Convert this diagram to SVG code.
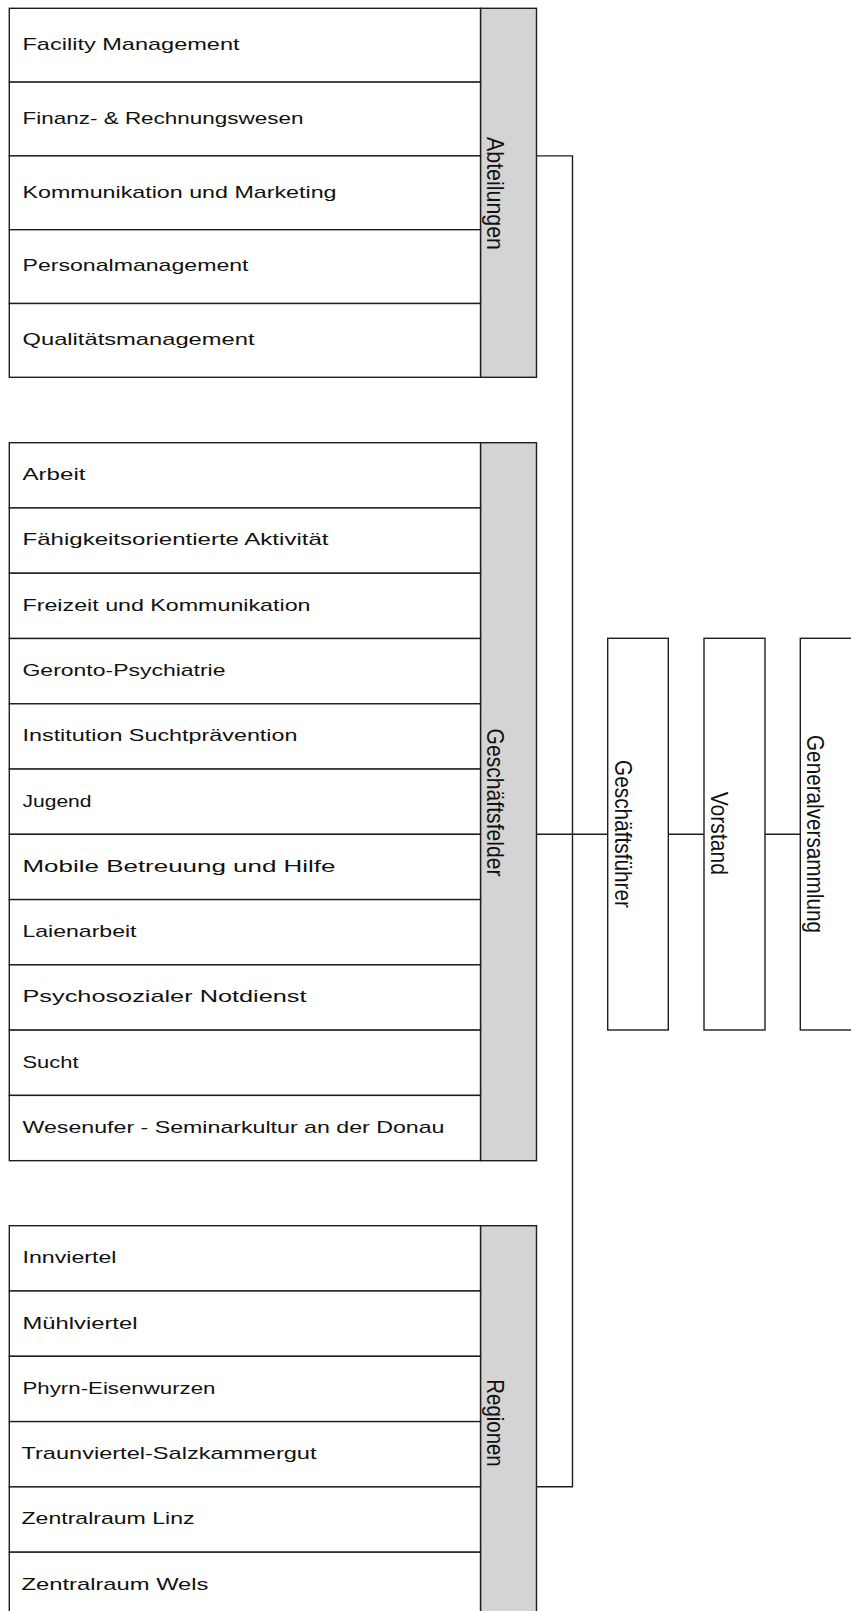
<svg xmlns="http://www.w3.org/2000/svg" width="851" height="1611" viewBox="0 0 851 1611">
<style>
.box{fill:#fff;stroke:#1e1e1e;stroke-width:1.4}
.lab{fill:#d4d4d4;stroke:#1e1e1e;stroke-width:1.4}
.conn{fill:none;stroke:#1e1e1e;stroke-width:1.4}
.t{font-family:"Liberation Sans",Arial,sans-serif;font-size:17px;fill:#111}
.v{font-family:"Liberation Sans",Arial,sans-serif;font-size:21px;fill:#111;text-anchor:middle}
</style>
<rect width="851" height="1611" fill="#fff"/>
<g id="connectors">
<path class="conn" d="M536.5,155.9 H572.5 V1486.8 H536.5"/>
<path class="conn" d="M536.5,834.3 H607.7"/>
<path class="conn" d="M668.3,834.3 H704"/>
<path class="conn" d="M765,834.3 H800.3"/>
</g>
<g id="abteilungen">
<rect class="lab" x="480.5" y="8.3" width="56" height="369"/>
<text class="v" transform="translate(487.3,193.5) rotate(90) scale(1,1.17)" textLength="113" lengthAdjust="spacingAndGlyphs">Abteilungen</text>
<g id="a1"><rect class="box" x="9.3" y="8.3" width="471.2" height="73.8"/><text class="t" x="22.5" y="50" textLength="217" lengthAdjust="spacingAndGlyphs">Facility Management</text></g>
<g id="a2"><rect class="box" x="9.3" y="82.1" width="471.2" height="73.8"/><text class="t" x="22.5" y="123.8" textLength="281" lengthAdjust="spacingAndGlyphs">Finanz- &amp; Rechnungswesen</text></g>
<g id="a3"><rect class="box" x="9.3" y="155.9" width="471.2" height="73.8"/><text class="t" x="22.5" y="197.6" textLength="314" lengthAdjust="spacingAndGlyphs">Kommunikation und Marketing</text></g>
<g id="a4"><rect class="box" x="9.3" y="229.7" width="471.2" height="73.8"/><text class="t" x="22.5" y="271.4" textLength="226" lengthAdjust="spacingAndGlyphs">Personalmanagement</text></g>
<g id="a5"><rect class="box" x="9.3" y="303.5" width="471.2" height="73.8"/><text class="t" x="22.5" y="345.2" textLength="232" lengthAdjust="spacingAndGlyphs">Qualitätsmanagement</text></g>
</g>
<g id="geschaeftsfelder">
<rect class="lab" x="480.5" y="442.7" width="56" height="718"/>
<text class="v" transform="translate(487.3,802.5) rotate(90) scale(1,1.17)" textLength="148" lengthAdjust="spacingAndGlyphs">Geschäftsfelder</text>
<g id="g1"><rect class="box" x="9.3" y="442.7" width="471.2" height="65.27"/><text class="t" x="22.5" y="480.1" textLength="63" lengthAdjust="spacingAndGlyphs">Arbeit</text></g>
<g id="g2"><rect class="box" x="9.3" y="507.97" width="471.2" height="65.27"/><text class="t" x="22.5" y="545.4" textLength="306" lengthAdjust="spacingAndGlyphs">Fähigkeitsorientierte Aktivität</text></g>
<g id="g3"><rect class="box" x="9.3" y="573.24" width="471.2" height="65.27"/><text class="t" x="22.5" y="610.7" textLength="288" lengthAdjust="spacingAndGlyphs">Freizeit und Kommunikation</text></g>
<g id="g4"><rect class="box" x="9.3" y="638.51" width="471.2" height="65.27"/><text class="t" x="22.5" y="676" textLength="203" lengthAdjust="spacingAndGlyphs">Geronto-Psychiatrie</text></g>
<g id="g5"><rect class="box" x="9.3" y="703.78" width="471.2" height="65.27"/><text class="t" x="22.5" y="741.2" textLength="275" lengthAdjust="spacingAndGlyphs">Institution Suchtprävention</text></g>
<g id="g6"><rect class="box" x="9.3" y="769.05" width="471.2" height="65.27"/><text class="t" x="22.5" y="806.5" textLength="69" lengthAdjust="spacingAndGlyphs">Jugend</text></g>
<g id="g7"><rect class="box" x="9.3" y="834.32" width="471.2" height="65.27"/><text class="t" x="22.5" y="871.8" textLength="313" lengthAdjust="spacingAndGlyphs">Mobile Betreuung und Hilfe</text></g>
<g id="g8"><rect class="box" x="9.3" y="899.59" width="471.2" height="65.27"/><text class="t" x="22.5" y="937" textLength="114" lengthAdjust="spacingAndGlyphs">Laienarbeit</text></g>
<g id="g9"><rect class="box" x="9.3" y="964.86" width="471.2" height="65.27"/><text class="t" x="22.5" y="1002.3" textLength="284" lengthAdjust="spacingAndGlyphs">Psychosozialer Notdienst</text></g>
<g id="g10"><rect class="box" x="9.3" y="1030.13" width="471.2" height="65.27"/><text class="t" x="22.5" y="1067.6" textLength="56" lengthAdjust="spacingAndGlyphs">Sucht</text></g>
<g id="g11"><rect class="box" x="9.3" y="1095.4" width="471.2" height="65.27"/><text class="t" x="22.5" y="1132.8" textLength="422" lengthAdjust="spacingAndGlyphs">Wesenufer - Seminarkultur an der Donau</text></g>
</g>
<g id="regionen">
<rect class="lab" x="480.5" y="1225.7" width="56" height="392"/>
<text class="v" transform="translate(487.3,1423) rotate(90) scale(1,1.17)" textLength="87.4" lengthAdjust="spacingAndGlyphs">Regionen</text>
<g id="r1"><rect class="box" x="9.3" y="1225.7" width="471.2" height="65.3"/><text class="t" x="22.5" y="1263.2" textLength="94" lengthAdjust="spacingAndGlyphs">Innviertel</text></g>
<g id="r2"><rect class="box" x="9.3" y="1291" width="471.2" height="65.3"/><text class="t" x="22.5" y="1328.5" textLength="115" lengthAdjust="spacingAndGlyphs">Mühlviertel</text></g>
<g id="r3"><rect class="box" x="9.3" y="1356.3" width="471.2" height="65.3"/><text class="t" x="22.5" y="1393.8" textLength="193" lengthAdjust="spacingAndGlyphs">Phyrn-Eisenwurzen</text></g>
<g id="r4"><rect class="box" x="9.3" y="1421.6" width="471.2" height="65.3"/><text class="t" x="21.5" y="1459.1" textLength="295" lengthAdjust="spacingAndGlyphs">Traunviertel-Salzkammergut</text></g>
<g id="r5"><rect class="box" x="9.3" y="1486.9" width="471.2" height="65.3"/><text class="t" x="21.5" y="1524.4" textLength="173" lengthAdjust="spacingAndGlyphs">Zentralraum Linz</text></g>
<g id="r6"><rect class="box" x="9.3" y="1552.2" width="471.2" height="65.3"/><text class="t" x="21.5" y="1589.5" textLength="187" lengthAdjust="spacingAndGlyphs">Zentralraum Wels</text></g>
</g>
<g id="geschaeftsfuehrer">
<rect class="box" x="607.7" y="638.3" width="60.6" height="391.7"/>
<text class="v" transform="translate(614.5,834) rotate(90) scale(1,1.17)" textLength="148" lengthAdjust="spacingAndGlyphs">Geschäftsführer</text>
</g>
<g id="vorstand">
<rect class="box" x="704" y="638.3" width="61" height="391.7"/>
<text class="v" transform="translate(711,833.3) rotate(90) scale(1,1.17)" textLength="83.3" lengthAdjust="spacingAndGlyphs">Vorstand</text>
</g>
<g id="generalversammlung">
<rect class="box" x="800.3" y="638.3" width="61" height="391.7"/>
<text class="v" transform="translate(807,834) rotate(90) scale(1,1.17)" textLength="198" lengthAdjust="spacingAndGlyphs">Generalversammlung</text>
</g>
</svg>
